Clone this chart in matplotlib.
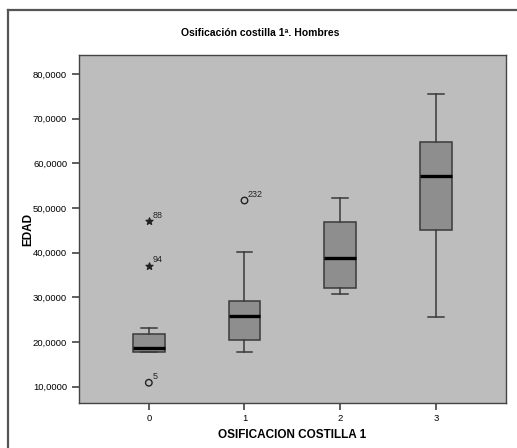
import matplotlib
matplotlib.use('Agg')
import matplotlib.pyplot as plt
from matplotlib.lines import Line2D
from matplotlib.ticker import FuncFormatter

plt.rcParams['font.family'] = ['Liberation Sans', 'DejaVu Sans']

# box summaries
groups = [0, 1, 2, 3]
whis_lo = [17.7, 17.8, 30.8, 25.7]
q1 = [17.7, 20.4, 32.1, 45.0]
medians = [18.6, 25.9, 38.9, 57.2]
q3 = [21.9, 29.2, 46.9, 64.7]
whis_hi = [23.1, 40.2, 52.3, 75.6]

# outliers (circles) and extremes (stars) with case numbers
out_x = [0, 1]
out_y = [10.9, 51.7]
out_lab = ['5', '232']
ext_x = [0, 0]
ext_y = [47.0, 37.0]
ext_lab = ['88', '94']

fig = plt.figure(figsize=(5.17, 4.48), dpi=100)
ax = fig.add_axes([0.1528, 0.0998, 0.8252, 0.7772])
ax.set_facecolor('#bdbdbd')

stats = []
for i in range(len(groups)):
    stats.append({'med': medians[i], 'q1': q1[i], 'q3': q3[i],
                  'whislo': whis_lo[i], 'whishi': whis_hi[i], 'fliers': []})

ax.bxp(stats, positions=groups, widths=0.33, capwidths=0.165,
       showfliers=False, patch_artist=True,
       boxprops=dict(facecolor='#8e8e8e', edgecolor='#3a3a3a', linewidth=1.1),
       whiskerprops=dict(color='#3a3a3a', linewidth=1.1),
       capprops=dict(color='#3a3a3a', linewidth=1.1),
       medianprops=dict(color='black', linewidth=2.4, solid_capstyle='butt'))

ax.scatter(out_x, out_y, s=22, facecolors='none', edgecolors='#222222',
           linewidths=1.0, zorder=5)
ax.scatter(ext_x, ext_y, s=26, marker='*', color='#222222', zorder=5)
for x, y, t in zip(out_x + ext_x, out_y + ext_y, out_lab + ext_lab):
    ax.annotate(t, xy=(x, y), xytext=(2.5, 4.5), textcoords='offset points',
                fontsize=6.5, ha='left', va='center', color='#222222')

ax.set_xlim(-0.73, 3.73)
ax.set_ylim(6.3, 84.25)
ax.set_xticks(groups)
ax.set_yticks([10, 20, 30, 40, 50, 60, 70, 80])
ax.yaxis.set_major_formatter(FuncFormatter(lambda v, p: ('%.4f' % v).replace('.', ',')))
ax.tick_params(axis='both', labelsize=6.8, length=5, width=1.1, color='#333333')
ax.tick_params(axis='x', pad=3)
for s in ax.spines.values():
    s.set_color('#444444')
    s.set_linewidth(1.0)

ax.set_xlabel('OSIFICACION COSTILLA 1', fontsize=8.5, fontweight='bold', labelpad=4)
ax.set_ylabel('EDAD', fontsize=8.5, fontweight='bold')
ax.yaxis.set_label_coords(-0.105, 0.5)
fig.text(0.503, 0.926, 'Osificación costilla 1ª. Hombres', ha='center', va='center',
         fontsize=7.5, fontweight='bold')

# outer frame (top and left edges visible)
fig.add_artist(Line2D([8 / 517, 8 / 517], [0, 1 - 10.5 / 448], color='#555555', linewidth=1.6))
fig.add_artist(Line2D([8 / 517, 1], [1 - 10.5 / 448, 1 - 10.5 / 448], color='#555555', linewidth=1.6))

fig.savefig('out.png', dpi=100)
